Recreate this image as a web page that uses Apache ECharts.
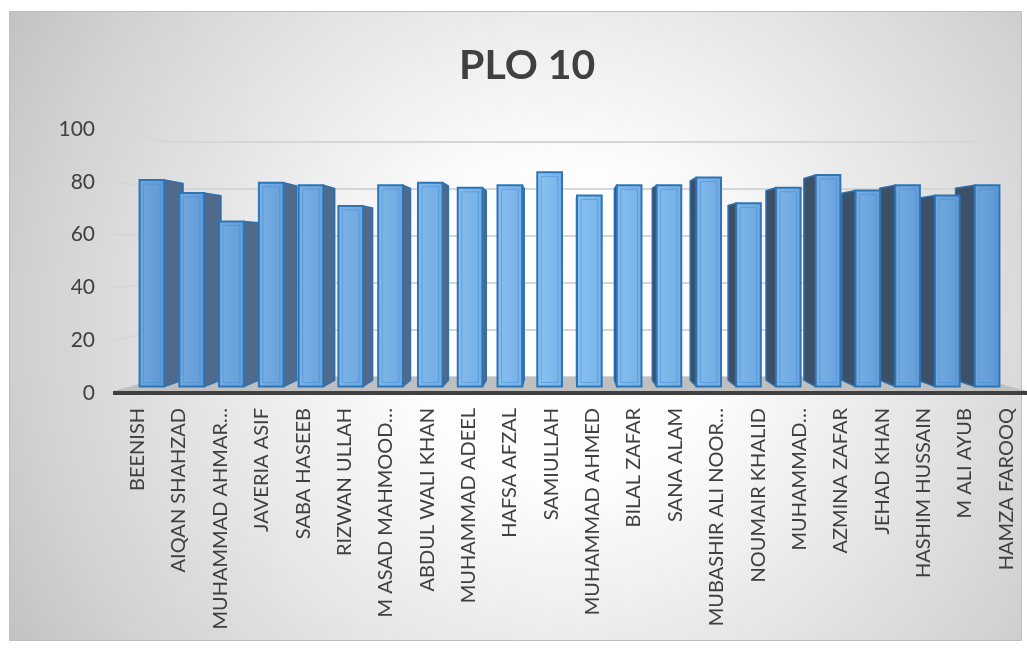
<!DOCTYPE html>
<html>
<head>
<meta charset="utf-8">
<title>PLO 10</title>
<script src="https://cdn.jsdelivr.net/npm/echarts@6/dist/echarts.min.js"></script>
<style>
  html, body { margin: 0; padding: 0; background: #ffffff; }
  #chart { width: 1027px; height: 652px; }
</style>
</head>
<body>
<div id="chart"></div>
<script>
// Student names (long ones are shown shortened, as on the axis)
const students = [
  'BEENISH', 'AIQAN SHAHZAD', 'MUHAMMAD AHMAR…', 'JAVERIA ASIF', 'SABA HASEEB',
  'RIZWAN ULLAH', 'M ASAD MAHMOOD…', 'ABDUL WALI KHAN', 'MUHAMMAD ADEEL', 'HAFSA AFZAL',
  'SAMIULLAH', 'MUHAMMAD AHMED', 'BILAL ZAFAR', 'SANA ALAM', 'MUBASHIR ALI NOOR…',
  'NOUMAIR KHALID', 'MUHAMMAD…', 'AZMINA ZAFAR', 'JEHAD KHAN', 'HASHIM HUSSAIN',
  'M ALI AYUB', 'HAMZA FAROOQ'
];

// PLO 10 attainment per student
const scores = [
  80, 75, 64, 79, 78,
  70, 78, 79, 77, 78,
  83, 74, 78, 78, 81,
  71, 77, 82, 76, 78,
  74, 78
];

// Value axis ticks
const valueTicks = [0, 20, 40, 60, 80, 100];

const TEXT = '#404040';
const FONT = 'Lato';

// Perspective of the 3D columns: vanishing point and depth factor
const VX = 565, VY = 251, DEPTH = 0.953;
const toBack = (p) => [VX + (p[0] - VX) * DEPTH, VY + (p[1] - VY) * DEPTH];

const chart = echarts.init(document.getElementById('chart'), null, { renderer: 'canvas' });

function barGeom(api) {
  const i = api.value(0);
  const v = api.value(1);
  const base = api.coord([i, 0]);
  const top = api.coord([i, v]);
  const w = api.size([1, 0])[0] * 0.62;
  return { xC: base[0], xL: base[0] - w / 2, xR: base[0] + w / 2, yTop: top[1], yBase: base[1], w: w };
}

function sideItem(params, api) {
  const g = barGeom(api);
  if (Math.abs(g.xC - VX) < g.w / 2) return { type: 'group', children: [] };
  const leftOfCenter = g.xC < VX;
  const ex = leftOfCenter ? g.xR : g.xL;
  const pts = [[ex, g.yTop], toBack([ex, g.yTop]), toBack([ex, g.yBase]), [ex, g.yBase]];
  return {
    type: 'polygon',
    shape: { points: pts },
    style: {
      fill: leftOfCenter ? '#4f6a8a' : '#3c5067',
      stroke: '#2f6fae',
      lineWidth: 1.5,
      lineJoin: 'round'
    }
  };
}

function frontItem(params, api) {
  const g = barGeom(api);
  const d = Math.min(1, Math.abs(g.xC - VX) / 420);
  // lighter towards the middle of the chart
  const mix = (a, b) => Math.round(a + (b - a) * d);
  const c1 = 'rgb(' + mix(142, 112) + ',' + mix(196, 166) + ',' + mix(243, 222) + ')';
  const c2 = 'rgb(' + mix(120, 94) + ',' + mix(180, 152) + ',' + mix(235, 212) + ')';
  const h = g.yBase - g.yTop;
  return {
    type: 'group',
    children: [
      {
        type: 'rect',
        shape: { x: g.xL, y: g.yTop, width: g.w, height: h },
        style: {
          fill: new echarts.graphic.LinearGradient(0, 0, 1, 0, [
            { offset: 0, color: c1 }, { offset: 1, color: c2 }
          ]),
          stroke: '#2e75b6',
          lineWidth: 2
        }
      },
      {
        type: 'rect',
        shape: { x: g.xL + 4, y: g.yTop + 4, width: g.w - 8, height: Math.max(0, h - 8) },
        style: { fill: 'none', stroke: 'rgba(70,140,210,0.55)', lineWidth: 1 },
        silent: true
      }
    ]
  };
}

const seriesData = scores.map((s, i) => [i, s]);

const option = {
  animation: false,
  backgroundColor: '#ffffff',
  textStyle: { fontFamily: FONT },
  title: {
    text: 'PLO 10',
    left: 454,
    top: 40,
    textStyle: { fontFamily: FONT, fontSize: 41, fontWeight: 'bold', color: TEXT }
  },
  grid: [
    // front edge: value labels and category labels
    { left: 117, right: 0, top: 129, bottom: 259 },
    // column faces
    { left: 132, right: 20, top: 128.5, bottom: 265.5 },
    // back wall gridlines
    { left: 165, right: 52, top: 141.7, bottom: 275 }
  ],
  xAxis: [
    {
      type: 'category', gridIndex: 0, data: students,
      axisLine: { show: false }, axisTick: { show: false },
      axisLabel: { rotate: 90, interval: 0, margin: 15, fontSize: 20, color: TEXT, fontFamily: FONT }
    },
    { type: 'category', gridIndex: 1, data: students, show: false },
    { type: 'category', gridIndex: 2, data: students, show: false }
  ],
  yAxis: [
    {
      type: 'value', gridIndex: 0, min: 0, max: 100, interval: 20,
      axisLine: { show: false }, axisTick: { show: false }, splitLine: { show: false },
      axisLabel: { margin: 22, fontSize: 21, color: TEXT, fontFamily: FONT }
    },
    { type: 'value', gridIndex: 1, min: 0, max: 100, interval: 20, show: false, splitLine: { show: false } },
    {
      type: 'value', gridIndex: 2, min: 0, max: 100, interval: 20,
      axisLine: { show: false }, axisTick: { show: false }, axisLabel: { show: false },
      splitLine: { show: true, lineStyle: { color: '#d6d6d6', width: 2 } }
    }
  ],
  series: [
    {
      type: 'custom', name: 'side', xAxisIndex: 1, yAxisIndex: 1, z: 3,
      renderItem: sideItem, data: seriesData, encode: { x: 0, y: 1 }
    },
    {
      type: 'custom', name: 'PLO 10', xAxisIndex: 1, yAxisIndex: 1, z: 4,
      renderItem: frontItem, data: seriesData, encode: { x: 0, y: 1 }
    }
  ]
};

chart.setOption(option);

// Side wall gridlines join the front value ticks to the back wall
const wallLines = valueTicks.filter(v => v > 0).map(v => {
  const yF = chart.convertToPixel({ yAxisIndex: 0 }, v);
  const yB = chart.convertToPixel({ yAxisIndex: 2 }, v);
  return {
    type: 'line', z: 1,
    shape: { x1: 113, y1: yF, x2: 165, y2: yB },
    style: { stroke: '#d6d6d6', lineWidth: 2 }
  };
});

const F0 = chart.convertToPixel({ yAxisIndex: 0 }, 0);
const B0 = chart.convertToPixel({ yAxisIndex: 2 }, 0);

chart.setOption({
  graphic: [
    {
      type: 'rect', z: -10,
      shape: { x: 9.5, y: 11.5, width: 1012, height: 629 },
      style: {
        fill: new echarts.graphic.RadialGradient(0.545, 0.5, 1.0, [
          { offset: 0, color: '#ffffff' },
          { offset: 0.25, color: '#fdfdfd' },
          { offset: 0.46, color: '#eeeeee' },
          { offset: 0.85, color: '#d1d1d1' },
          { offset: 1, color: '#c3c3c3' }
        ]),
        stroke: '#bfbfbf', lineWidth: 1
      }
    },
    ...wallLines,
    {
      // floor
      type: 'polygon', z: 2,
      shape: { points: [[113, F0 - 2], [1027, F0 - 2], [975, B0], [165, B0]] },
      style: { fill: '#bfbfbf' }
    },
    {
      type: 'line', z: 5,
      shape: { x1: 113, y1: F0, x2: 1027, y2: F0 },
      style: { stroke: '#404040', lineWidth: 4 }
    }
  ]
});
</script>
</body>
</html>
